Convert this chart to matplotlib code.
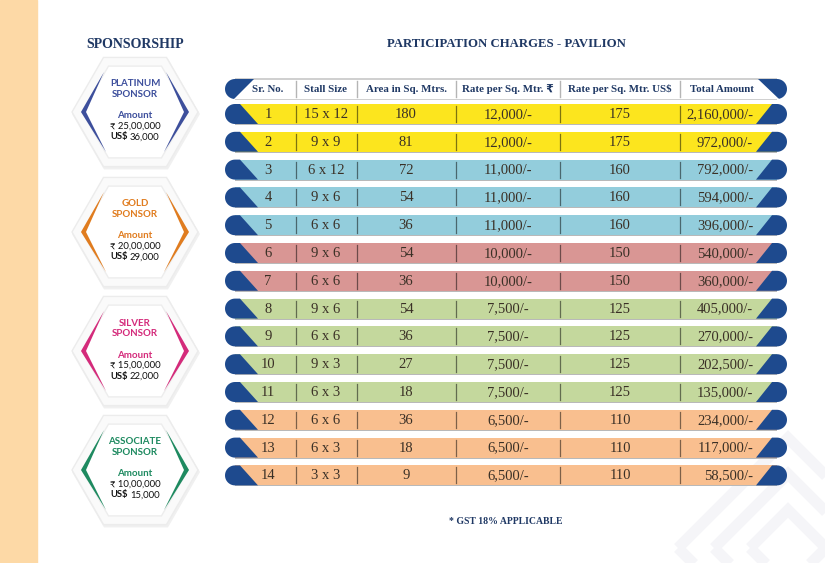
import numpy as np
import matplotlib
matplotlib.use("Agg")
import matplotlib.pyplot as plt
from matplotlib.patches import Polygon, Rectangle

# ---- data ----
columns = ["Sr. No.", "Stall Size", "Area in Sq. Mtrs.", "Rate per Sq. Mtr. \u20b9",
           "Rate per Sq. Mtr. US$", "Total Amount"]
sr_no = ["1", "2", "3", "4", "5", "6", "7", "8", "9", "10", "11", "12", "13", "14"]
stall_size = ["15 x 12", "9 x 9", "6 x 12", "9 x 6", "6 x 6", "9 x 6", "6 x 6",
              "9 x 6", "6 x 6", "9 x 3", "6 x 3", "6 x 6", "6 x 3", "3 x 3"]
area = ["180", "81", "72", "54", "36", "54", "36", "54", "36", "27", "18", "36", "18", "9"]
rate_inr = ["12,000/-", "12,000/-", "11,000/-", "11,000/-", "11,000/-", "10,000/-",
            "10,000/-", "7,500/-", "7,500/-", "7,500/-", "7,500/-", "6,500/-",
            "6,500/-", "6,500/-"]
rate_usd = ["175", "175", "160", "160", "160", "150", "150", "125", "125", "125",
            "125", "110", "110", "110"]
total = ["2,160,000/-", "972,000/-", "792,000/-", "594,000/-", "396,000/-", "540,000/-",
         "360,000/-", "405,000/-", "270,000/-", "202,500/-", "135,000/-", "234,000/-",
         "117,000/-", "58,500/-"]
row_group = [0, 0, 1, 1, 1, 2, 2, 3, 3, 3, 3, 4, 4, 4]
group_colors = ["#fce51e", "#93cddc", "#d99694", "#c4d89d", "#f9bf8f"]

sponsor_levels = ["PLATINUM", "GOLD", "SILVER", "ASSOCIATE"]
sponsor_inr = ["25,00,000", "20,00,000", "15,00,000", "10,00,000"]
sponsor_usd = ["36,000", "29,000", "22,000", "15,000"]
sponsor_colors = ["#3d4f9c", "#e07c1f", "#d42b7b", "#1e8a60"]

NAVY = "#1f3864"
CAP = "#1e4a8e"
SERIF = ["Liberation Serif", "DejaVu Sans"]
SANS = ["Lato", "DejaVu Sans"]

fig = plt.figure(figsize=(8.25, 5.63), dpi=100)
ax = fig.add_axes([0, 0, 1, 1])
ax.set_xlim(0, 825)
ax.set_ylim(563, 0)
ax.axis("off")

# background strip and watermark
ax.add_patch(Rectangle((0, 0), 37, 563, color="#fdd9a6", zorder=0))
wc = (788, 548)
for hd in [110, 74, 38]:
    d = Polygon([(wc[0] - hd, wc[1]), (wc[0], wc[1] - hd), (wc[0] + hd, wc[1]),
                 (wc[0], wc[1] + hd)], closed=True, fill=False,
                edgecolor="#f5f5f8", lw=8, zorder=0)
    ax.add_patch(d)

# titles
ax.text(135, 44, "SPONSORSHIP", fontsize=10, fontweight="bold", family=SERIF,
        color=NAVY, ha="center", va="center")
ax.text(506, 44, "PARTICIPATION CHARGES - PAVILION", fontsize=9.2, fontweight="bold",
        family=SERIF, color=NAVY, ha="center", va="center")
ax.text(506, 521, "* GST 18% APPLICABLE", fontsize=7, fontweight="bold", family=SERIF,
        color=NAVY, ha="center", va="center")


# ---- sponsorship hexagons ----
def hexagon(cx, cy, R):
    ang = np.radians(np.arange(0, 360, 60))
    return np.column_stack([cx + R * np.cos(ang), cy + R * np.sin(ang)])


hx = 135
hex_y = [112, 232, 351, 470]
for i, cy in enumerate(hex_y):
    col = sponsor_colors[i]
    ax.add_patch(Polygon(hexagon(hx + 1, cy + 2, 64), closed=True, fc="#f0f0f0",
                         ec="none", zorder=1))
    ax.add_patch(Polygon(hexagon(hx, cy, 63), closed=True, fc="#fafafa",
                         ec="#ececec", lw=1, zorder=1))
    ax.add_patch(Polygon(hexagon(hx, cy, 53), closed=True, fc="white",
                         ec="#ededed", lw=1, zorder=2))
    for s in (-1, 1):
        pts = [(hx + s * 31, cy - 40), (hx + s * 54, cy), (hx + s * 29, cy + 40),
               (hx + s * 49, cy)]
        ax.add_patch(Polygon(pts, closed=True, fc=col, ec="none", zorder=3))
    ax.text(hx, cy - 28, sponsor_levels[i], fontsize=7, fontweight="bold",
            family=SANS, color=col, ha="center", va="center", zorder=4)
    ax.text(hx, cy - 17.5, "SPONSOR", fontsize=7, fontweight="bold",
            family=SANS, color=col, ha="center", va="center", zorder=4)
    ax.text(hx, cy + 4, "Amount", fontsize=7, fontweight="bold",
            family=SANS, color=col, ha="center", va="center", zorder=4)
    ax.text(hx, cy + 14.5, "\u20b9 " + sponsor_inr[i], fontsize=6.8, family=SANS,
            color="#111111", ha="center", va="center", zorder=4)
    ax.text(hx - 7, cy + 25, "US$", fontsize=6.8, fontweight="bold", family=SANS,
            color="#111111", ha="right", va="center", zorder=4)
    ax.text(hx - 5, cy + 25, sponsor_usd[i], fontsize=6.8, family=SANS,
            color="#111111", ha="left", va="center", zorder=4)


# ---- table ----
x0, x1 = 225, 787
h = 20
r = h / 2
dividers = [296, 357, 456, 560, 680]
col_x = [268, 326, 406, 508, 620]
total_x = 753


def left_cap(yc, flip=False):
    cx = x0 + r
    th = np.radians(np.linspace(90, 270, 30))
    arc = [(cx + r * np.cos(t), yc - r * np.sin(t)) for t in th]
    if not flip:
        return arc + [(cx + 23, yc + r), (cx + 5, yc - r)]
    return arc + [(cx - 1, yc + r), (cx + 19, yc - r)]


def right_cap(yc, flip=False):
    cx = x1 - r
    th = np.radians(np.linspace(270, 450, 30))
    arc = [(cx + r * np.cos(t), yc - r * np.sin(t)) for t in th]
    if not flip:
        return arc + [(cx - 5, yc - r), (cx - 21, yc + r)]
    return arc + [(cx - 19, yc - r), (cx + 2, yc + r)]


def darker(c, f=0.5):
    rgb = np.array(matplotlib.colors.to_rgb(c))
    return tuple(rgb * f)


# header
hy = 89
ax.add_patch(Rectangle((x0 + r, hy - r - 1.5), x1 - x0 - h, h + 2, fc="#d0d0d0",
                       ec="none", zorder=1))
ax.add_patch(Rectangle((x0 + r, hy - r + 0.5), x1 - x0 - h, h - 1, fc="white",
                       ec="none", zorder=2))
ax.add_patch(Polygon(left_cap(hy, flip=True), closed=True, fc=CAP, ec="none", zorder=3))
ax.add_patch(Polygon(right_cap(hy, flip=True), closed=True, fc=CAP, ec="none", zorder=3))
for dx in dividers:
    ax.plot([dx, dx], [hy - r + 2, hy + r - 2], color="#b5b5b5", lw=1, zorder=3)
header_x = col_x + [722]
for cx_, lab in zip(header_x, columns):
    ax.text(cx_, hy, lab, fontsize=7.8, fontweight="bold", family=SERIF, color=NAVY,
            ha="center", va="center", zorder=4)

# body rows
row_y0, row_dy = 114, 27.8
for i in range(len(sr_no)):
    yc = row_y0 + i * row_dy
    fc = group_colors[row_group[i]]
    ax.add_patch(Rectangle((x0 + r, yc - r + 1), x1 - x0 - h, h, fc="#b9b9b9",
                           ec="none", zorder=1))
    ax.add_patch(Rectangle((x0 + r, yc - r), x1 - x0 - h, h, fc=fc, ec="none", zorder=2))
    ax.add_patch(Polygon(left_cap(yc), closed=True, fc=CAP, ec="none", zorder=3))
    ax.add_patch(Polygon(right_cap(yc), closed=True, fc=CAP, ec="none", zorder=3))
    for dx in dividers:
        ax.plot([dx, dx], [yc - r + 2, yc + r - 2], color=darker(fc), lw=0.9, zorder=3)
    vals = [sr_no[i], stall_size[i], area[i], rate_inr[i], rate_usd[i]]
    for cx_, v in zip(col_x, vals):
        ax.text(cx_, yc + 0.5, v, fontsize=10.5, family=SERIF, color="#3a3026",
                ha="center", va="center", zorder=4)
    ax.text(total_x, yc + 0.5, total[i], fontsize=10.5, family=SERIF, color="#3a3026",
            ha="right", va="center", zorder=4)

fig.savefig("out.png", dpi=100)
